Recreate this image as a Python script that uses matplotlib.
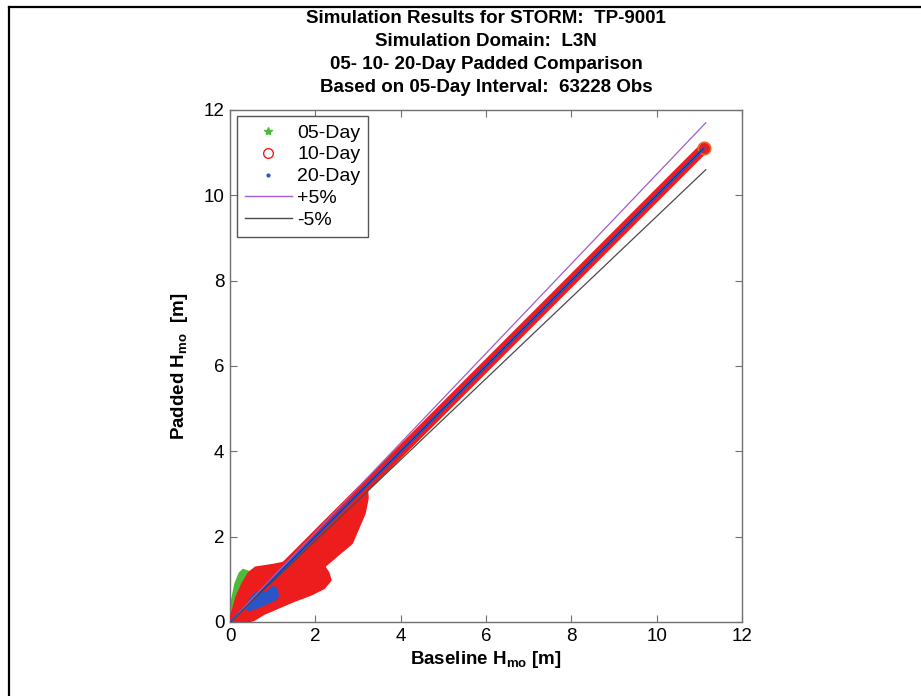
import matplotlib
matplotlib.use("Agg")
import matplotlib.pyplot as plt
from matplotlib.lines import Line2D

plt.rcParams['font.family'] = ['Liberation Sans', 'DejaVu Sans']
plt.rcParams['mathtext.fontset'] = 'custom'
plt.rcParams['mathtext.rm'] = 'Liberation Sans'
plt.rcParams['mathtext.bf'] = 'Liberation Sans:bold'

# ---- data ----
title_lines = ["Simulation Results for STORM:  TP-9001",
               "Simulation Domain:  L3N",
               "05- 10- 20-Day Padded Comparison",
               "Based on 05-Day Interval:  63228 Obs"]
ticks = [0, 2, 4, 6, 8, 10, 12]

# 1:1 band of points (baseline vs padded)
diag_x = [0.0, 11.1]
diag_y = [0.0, 11.1]
# +/-5% reference lines
ref_x = [0.0, 11.15]
plus5_y = [0.0, 11.7]
minus5_y = [0.0, 10.6]

# 05-Day scatter envelope
green_x = [0.0, 0.02, 0.1, 0.2, 0.3, 0.45, 0.5, 0.35, 0.2, 0.12, 0.05]
green_y = [0.03, 0.5, 0.9, 1.15, 1.25, 1.2, 0.9, 0.45, 0.1, -0.04, -0.04]

# 10-Day scatter envelope
red_x = [0.0, 0.05, 0.16, 0.3, 0.45, 0.6, 1.0, 1.35, 1.6, 2.2, 3.0, 3.2, 3.22, 3.15, 3.0,
         2.85, 2.55, 2.2, 2.3, 2.35, 2.2, 1.9, 1.5, 1.15, 0.8, 0.55, 0.3, 0.05]
red_y = [0.0, 0.2, 0.59, 0.9, 1.15, 1.27, 1.33, 1.4, 1.7, 2.32, 3.12, 3.18, 2.9, 2.55, 2.2,
         1.85, 1.6, 1.3, 1.15, 0.98, 0.8, 0.65, 0.5, 0.35, 0.2, 0.05, -0.02, -0.03]

# 20-Day scatter envelope
blue_x = [0.35, 0.45, 0.6, 0.75, 0.85, 1.0, 1.12, 1.15, 1.1, 0.95, 0.8, 0.6, 0.45]
blue_y = [0.3, 0.55, 0.72, 0.7, 0.72, 0.85, 0.8, 0.6, 0.52, 0.45, 0.38, 0.3, 0.25]

green = '#4cbb3a'
red = '#ee1d1d'
blue = '#2a55c8'
purple = '#a05cc8'
gray = '#4a4a4a'

fig = plt.figure(figsize=(9.21, 6.96), dpi=100)
ax = fig.add_axes([230/921, 74/696, 512/921, 512/696])

ax.fill(green_x, green_y, color=green, lw=0, zorder=2)
ax.fill(red_x, red_y, color=red, lw=2, ec=red, joinstyle='round', zorder=3)
ax.plot(diag_x, diag_y, color=red, lw=7.5, solid_capstyle='round', zorder=3)
ax.plot(diag_x[-1:], diag_y[-1:], 'o', ms=9, mfc=red, mec='#e86a30', mew=1.2, zorder=3)
ax.fill(blue_x, blue_y, color=blue, lw=0, zorder=4)
ax.plot(diag_x, diag_y, color=blue, lw=2.3, zorder=4)
ax.plot(diag_x, diag_y, color='#1a2a60', lw=0.5, zorder=4)
ax.plot(ref_x, plus5_y, color=purple, lw=0.9, zorder=5)
ax.plot(ref_x, minus5_y, color=gray, lw=0.9, zorder=5)

ax.set_xlim(0, 12)
ax.set_ylim(0, 12)
ax.set_xticks(ticks)
ax.set_yticks(ticks)
ax.tick_params(direction='in', top=True, right=True, length=5, width=0.8,
               color='#707070', labelsize=13.5, pad=4)
for s in ax.spines.values():
    s.set_color('#707070')
    s.set_linewidth(1.0)

ax.set_xlabel(r'Baseline H$_{\mathbf{mo}}$ [m]', fontsize=13.5, fontweight='bold', labelpad=3)
ax.set_ylabel(r'Padded H$_{\mathbf{mo}}$  [m]', fontsize=13.5, fontweight='bold', labelpad=10)
ax.set_title("\n".join(title_lines), fontsize=13.5, fontweight='bold', linespacing=1.45, pad=13)

handles = [
    Line2D([], [], ls='none', marker='*', ms=6, color=green),
    Line2D([], [], ls='none', marker='o', ms=7, mfc='none', mec=red),
    Line2D([], [], ls='none', marker='.', ms=4, color=blue),
    Line2D([], [], color=purple, lw=1),
    Line2D([], [], color=gray, lw=1),
]
labels = ['05-Day', '10-Day', '20-Day', '+5%', '-5%']
leg = ax.legend(handles, labels, loc='upper left', bbox_to_anchor=(0.014, 0.988),
                borderaxespad=0, fontsize=14, frameon=True, fancybox=False,
                edgecolor='#555555', framealpha=1, handlelength=2.4,
                handletextpad=0.3, labelspacing=0.22, borderpad=0.4)
leg.get_frame().set_linewidth(1.0)

# outer page frame
fig.add_artist(Line2D([8.5/921, 8.5/921], [0, 1 - 7/696], transform=fig.transFigure,
                      color='black', lw=1.6))
fig.add_artist(Line2D([8.5/921, 1], [1 - 7/696, 1 - 7/696], transform=fig.transFigure,
                      color='black', lw=1.6))

fig.savefig('out.png', dpi=100)
